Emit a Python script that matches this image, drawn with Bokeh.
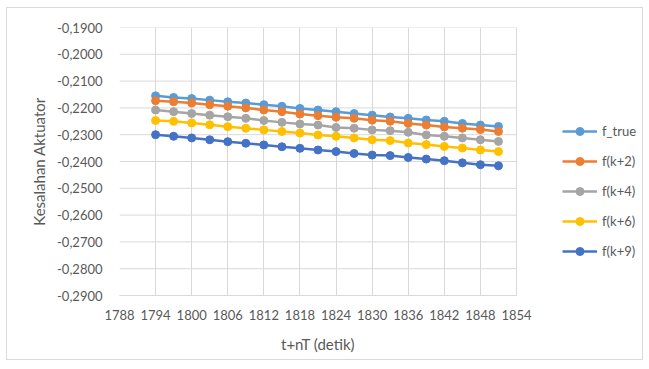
from bokeh.plotting import figure
from bokeh.models import FixedTicker, CustomJSTickFormatter, Legend, LegendItem, InlineStyleSheet, Title
from bokeh.embed import file_html
from bokeh.resources import INLINE

t = [1794, 1797, 1800, 1803, 1806, 1809, 1812, 1815, 1818, 1821,
     1824, 1827, 1830, 1833, 1836, 1839, 1842, 1845, 1848, 1851]
f_true = [-0.2155, -0.2161, -0.2165, -0.2171, -0.2177, -0.2182, -0.2188, -0.2194, -0.2202, -0.2208,
          -0.2214, -0.2221, -0.2227, -0.2234, -0.2239, -0.2245, -0.2250, -0.2258, -0.2264, -0.2269]
f_k2 = [-0.2173, -0.2177, -0.2182, -0.2188, -0.2194, -0.2200, -0.2208, -0.2214, -0.2223, -0.2229,
        -0.2235, -0.2239, -0.2246, -0.2250, -0.2258, -0.2264, -0.2271, -0.2276, -0.2281, -0.2288]
f_k4 = [-0.2208, -0.2214, -0.2221, -0.2227, -0.2233, -0.2239, -0.2247, -0.2254, -0.2260, -0.2264,
        -0.2273, -0.2276, -0.2282, -0.2285, -0.2291, -0.2301, -0.2306, -0.2312, -0.2319, -0.2325]
f_k6 = [-0.2247, -0.2250, -0.2256, -0.2263, -0.2270, -0.2276, -0.2282, -0.2288, -0.2294, -0.2301,
        -0.2306, -0.2312, -0.2319, -0.2322, -0.2331, -0.2337, -0.2344, -0.2350, -0.2357, -0.2363]
f_k9 = [-0.2300, -0.2306, -0.2312, -0.2319, -0.2326, -0.2332, -0.2338, -0.2345, -0.2351, -0.2357,
        -0.2363, -0.2370, -0.2376, -0.2378, -0.2385, -0.2391, -0.2397, -0.2405, -0.2412, -0.2416]

series_names = ["f_true", "f(k+2)", "f(k+4)", "f(k+6)", "f(k+9)"]
series_values = [f_true, f_k2, f_k4, f_k6, f_k9]
colors = ["#5B9BD5", "#ED7D31", "#A5A5A5", "#FFC000", "#4472C4"]

x_ticks = [1788, 1794, 1800, 1806, 1812, 1818, 1824, 1830, 1836, 1842, 1848, 1854]
y_ticks = [-0.29, -0.28, -0.27, -0.26, -0.25, -0.24, -0.23, -0.22, -0.21, -0.20, -0.19]
x_title = "t+nT (detik)"
y_title = "Kesalahan Aktuator"

FONT = "Lato"
TXT = "#595959"
GRID = "#D9D9D9"

# layout (pixels): plot area spans 119..516 for the axis; the frame is widened to hold the legend
W, H = 649, 369
LEFT, AXIS_RIGHT, FRAME_RIGHT, TOP, BOTTOM = 119, 516, 645, 27, 295
units_per_px = (x_ticks[-1] - x_ticks[0]) / (AXIS_RIGHT - LEFT)
x_end = x_ticks[-1] + (FRAME_RIGHT - AXIS_RIGHT) * units_per_px

p = figure(width=W, height=H, output_backend="svg", toolbar_location=None,
           x_range=(x_ticks[0], x_end), y_range=(y_ticks[0], y_ticks[-1]),
           min_border_left=LEFT, min_border_right=W - FRAME_RIGHT,
           min_border_top=TOP, min_border_bottom=H - BOTTOM)
p.background_fill_color = "white"
p.border_fill_color = "white"
p.outline_line_color = None

# horizontal gridlines limited to the axis extent
p.segment(x0=[x_ticks[0]] * len(y_ticks), x1=[x_ticks[-1]] * len(y_ticks),
          y0=y_ticks, y1=y_ticks, line_color=GRID, line_width=1, level="underlay")

items = []
for name, vals, c in zip(series_names, series_values, colors):
    r1 = p.line(t, vals, line_color=c, line_width=2.5)
    r2 = p.scatter(t, vals, size=8, fill_color=c, line_color=c)
    items.append(LegendItem(label=name, renderers=[r1, r2]))

legend = Legend(items=items, location=(562 - LEFT, BOTTOM - 261), orientation="vertical",
                glyph_width=35, glyph_height=20, spacing=10, padding=0, margin=0,
                label_standoff=5, label_text_font=FONT, label_text_font_size="13px",
                label_text_color=TXT, border_line_color=None, background_fill_alpha=0,
                label_height=20)
p.add_layout(legend, "center")

p.xaxis.ticker = FixedTicker(ticks=x_ticks)
p.yaxis.ticker = FixedTicker(ticks=y_ticks)
p.xaxis.bounds = (x_ticks[0], x_ticks[-1])
p.yaxis.formatter = CustomJSTickFormatter(code="return tick.toFixed(4).replace('.', ',');")
p.xaxis.formatter = CustomJSTickFormatter(code="return tick.toFixed(0);")

for ax in (p.xaxis, p.yaxis):
    ax.major_tick_line_color = None
    ax.minor_tick_line_color = None
    ax.major_tick_out = 0
    ax.major_tick_in = 0
    ax.minor_tick_out = 0
    ax.minor_tick_in = 0
    ax.major_label_text_font = FONT
    ax.major_label_text_font_size = "13px"
    ax.major_label_text_color = TXT
    ax.axis_label_text_font = FONT
    ax.axis_label_text_font_size = "15px"
    ax.axis_label_text_font_style = "normal"
    ax.axis_label_text_color = TXT

p.xaxis.axis_line_color = GRID
p.yaxis.axis_line_color = None
p.xaxis.major_label_standoff = 14
p.yaxis.major_label_standoff = 17
p.yaxis.axis_label = y_title
p.yaxis.axis_label_standoff = 6

# x-axis title centred under the axis extent (not the widened frame)
xt = Title(text=x_title, align="left", offset=(LEFT + AXIS_RIGHT) / 2 - 37 - LEFT,
           text_font=FONT, text_font_size="15px", text_font_style="normal",
           text_color=TXT, standoff=20)
p.add_layout(xt, "below")

p.xgrid.ticker = FixedTicker(ticks=x_ticks)
p.xgrid.grid_line_color = GRID
p.xgrid.grid_line_width = 1
p.ygrid.visible = False

p.stylesheets = [InlineStyleSheet(css=(
    ":host::after { content: ''; position: absolute; left: 6px; top: 7px; width: 637px; height: 353px;"
    " box-sizing: border-box; border: 1px solid #D9D9D9; pointer-events: none; z-index: 100; }"
))]

open("out.html", "w").write(file_html(p, INLINE))
